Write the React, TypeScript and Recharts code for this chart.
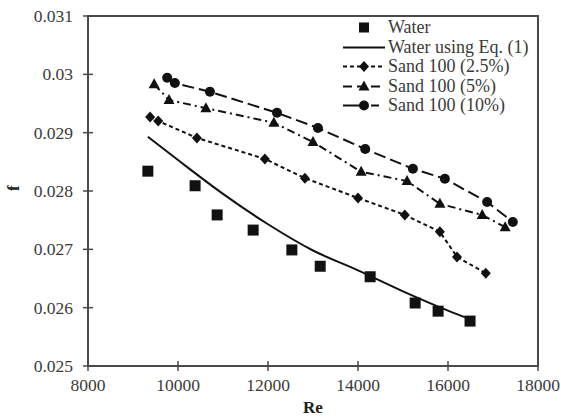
import React from 'react';
import { ComposedChart, Line, Scatter, XAxis, YAxis, ReferenceArea, Legend } from 'recharts';

// ---- data ----
const waterRe = [9330, 10380, 10870, 11670, 12530, 13160, 14270, 15270, 15780, 16490];
const waterF = [0.02834, 0.02809, 0.02759, 0.02733, 0.02699, 0.02671, 0.02653, 0.02608, 0.02594, 0.02577];

const eqRe = [9330, 10000, 11000, 12000, 13000, 14000, 15000, 16000, 16500];
const eqF = [0.02893, 0.02853, 0.02795, 0.02743, 0.02698, 0.02664, 0.02628, 0.02595, 0.0258];

const sand25Re = [9380, 9560, 10420, 11930, 12820, 14000, 15040, 15820, 16200, 16840];
const sand25F = [0.02927, 0.0292, 0.02891, 0.02855, 0.02822, 0.02788, 0.02759, 0.0273, 0.02687, 0.02659];

const sand5Re = [9470, 9800, 10620, 12130, 13000, 14070, 15090, 15820, 16760, 17270];
const sand5F = [0.02983, 0.02956, 0.02942, 0.02917, 0.02884, 0.02833, 0.02817, 0.02778, 0.02759, 0.02738];

const sand10Re = [9760, 9930, 10710, 12200, 13110, 14160, 15220, 15930, 16870, 17440];
const sand10F = [0.02994, 0.02985, 0.0297, 0.02934, 0.02908, 0.02872, 0.02838, 0.02821, 0.02781, 0.02747];

const xTicks = [8000, 10000, 12000, 14000, 16000, 18000];
const yTicks = [0.025, 0.026, 0.027, 0.028, 0.029, 0.03, 0.031];
const yTickLabels = ['0.025', '0.026', '0.027', '0.028', '0.029', '0.03', '0.031'];

const seriesNames = ['Water', 'Water using Eq. (1)', 'Sand 100 (2.5%)', 'Sand 100 (5%)', 'Sand 100 (10%)'];

const zip = (xs: number[], ys: number[]) => xs.map((re, i) => ({ re, f: ys[i] }));
const waterData = zip(waterRe, waterF);
const eqData = zip(eqRe, eqF);
const sand25Data = zip(sand25Re, sand25F);
const sand5Data = zip(sand5Re, sand5F);
const sand10Data = zip(sand10Re, sand10F);

const FONT = 'Liberation Serif';
const AXIS = '#4a4a4a';
const INK = '#111';
const TXT = '#3a3a3a';

const DASH25 = '4 3';
const DASH5 = '8 4 2 4';
const DASH10 = '12 5';

// ---- markers ----
const squareAt = (cx: number, cy: number, k: any) => (
  <rect key={k} x={cx - 5.5} y={cy - 5.5} width={11} height={11} fill={INK} />
);
const diamondAt = (cx: number, cy: number, k: any) => (
  <path key={k} d={`M${cx},${cy - 5.5}L${cx + 5},${cy}L${cx},${cy + 5.5}L${cx - 5},${cy}Z`} fill={INK} />
);
const triangleAt = (cx: number, cy: number, k: any) => (
  <path key={k} d={`M${cx},${cy - 6}L${cx + 5.5},${cy + 4}L${cx - 5.5},${cy + 4}Z`} fill={INK} />
);
const circleAt = (cx: number, cy: number, k: any) => <circle key={k} cx={cx} cy={cy} r={5} fill={INK} />;

const dotFn = (maker: any) => (p: any) => {
  if (p.cx == null || p.cy == null) return <g key={p.index} />;
  return maker(p.cx, p.cy, p.index);
};

const SquareShape = (p: any) => {
  const cx = p.cx != null ? p.cx : p.x + (p.width || 0) / 2;
  const cy = p.cy != null ? p.cy : p.y + (p.height || 0) / 2;
  return squareAt(cx, cy, undefined);
};

// ---- ticks ----
const YTick = (p: any) => {
  const { x, y, payload } = p;
  const ax = x + 15;
  const idx = yTicks.findIndex((t) => Math.abs(t - payload.value) < 1e-9);
  return (
    <g>
      <line x1={ax - 5} x2={ax + 5} y1={y} y2={y} stroke={AXIS} strokeWidth={1.5} />
      <text x={x} y={y} dy="0.35em" textAnchor="end" style={{ fontFamily: FONT }} fontSize={17.5} fill={TXT}>
        {idx >= 0 ? yTickLabels[idx] : String(payload.value)}
      </text>
    </g>
  );
};

const XTick = (p: any) => {
  const { x, y, payload } = p;
  const ay = y - 13;
  return (
    <g>
      <line x1={x} x2={x} y1={ay - 5} y2={ay + 5} stroke={AXIS} strokeWidth={1.5} />
      <text x={x} y={y} dy="0.68em" textAnchor="middle" style={{ fontFamily: FONT }} fontSize={17.5} fill={TXT}>
        {payload.value}
      </text>
    </g>
  );
};

// ---- legend ----
const legendIcons = [
  () => <rect x={16} y={4.5} width={10} height={10} fill={INK} />,
  () => <line x1={0} x2={42} y1={9.5} y2={9.5} stroke={INK} strokeWidth={2} />,
  () => (
    <g>
      <line x1={0} x2={42} y1={9.5} y2={9.5} stroke={INK} strokeWidth={2} strokeDasharray={DASH25} />
      {diamondAt(21, 9.5, 'd')}
    </g>
  ),
  () => (
    <g>
      <line x1={0} x2={42} y1={9.5} y2={9.5} stroke={INK} strokeWidth={2} strokeDasharray="9 5" />
      {triangleAt(21, 9.5, 't')}
    </g>
  ),
  () => (
    <g>
      <line x1={0} x2={42} y1={9.5} y2={9.5} stroke={INK} strokeWidth={2} strokeDasharray="24 4 8 6" />
      {circleAt(21, 9.5, 'c')}
    </g>
  ),
];

const renderLegend = () => (
  <div style={{ fontFamily: FONT, fontSize: 18, color: TXT, lineHeight: '19.5px' }}>
    {seriesNames.map((name, i) => (
      <div key={name} style={{ display: 'flex', alignItems: 'center', height: 19.5, whiteSpace: 'nowrap' }}>
        <svg width={44} height={19} style={{ marginRight: 1, flex: 'none' }}>
          {legendIcons[i]()}
        </svg>
        <span style={{ fontFamily: FONT }}>{name}</span>
      </div>
    ))}
  </div>
);

export default function App() {
  return (
    <div style={{ position: 'absolute', left: 0, top: 0, width: 561, height: 420, background: '#fff', fontFamily: FONT }}>
      <ComposedChart width={561} height={420} margin={{ top: 16, right: 23, bottom: 0, left: 0 }} style={{ fontFamily: FONT }}>
        <XAxis
          dataKey="re"
          type="number"
          domain={[8000, 18000]}
          ticks={xTicks}
          allowDataOverflow
          height={54}
          tickSize={5}
          tickMargin={8}
          tickLine={false}
          tick={<XTick />}
          axisLine={{ stroke: AXIS, strokeWidth: 2 }}
          label={{ value: 'Re', position: 'insideBottom', offset: 7, fontFamily: FONT, fontSize: 17, fontWeight: 'bold', fill: '#222' }}
        />
        <YAxis
          type="number"
          domain={[0.025, 0.031]}
          ticks={yTicks}
          allowDataOverflow
          width={88}
          tickSize={5}
          tickMargin={10}
          tickLine={false}
          tick={<YTick />}
          axisLine={{ stroke: AXIS, strokeWidth: 2 }}
          label={{ value: 'f', angle: -90, position: 'insideLeft', offset: 13, fontFamily: FONT, fontSize: 17, fontWeight: 'bold', fill: '#222' }}
        />
        <ReferenceArea x1={8000} x2={18000} y1={0.025} y2={0.031} fill="none" fillOpacity={0} stroke={AXIS} strokeWidth={2} />
        <Line
          name={seriesNames[1]}
          data={eqData}
          dataKey="f"
          type="monotone"
          stroke={INK}
          strokeWidth={2}
          dot={false}
          activeDot={false}
          isAnimationActive={false}
        />
        <Line
          name={seriesNames[2]}
          data={sand25Data}
          dataKey="f"
          type="linear"
          stroke={INK}
          strokeWidth={2}
          strokeDasharray={DASH25}
          dot={dotFn(diamondAt)}
          activeDot={false}
          isAnimationActive={false}
        />
        <Line
          name={seriesNames[3]}
          data={sand5Data}
          dataKey="f"
          type="linear"
          stroke={INK}
          strokeWidth={2}
          strokeDasharray={DASH5}
          dot={dotFn(triangleAt)}
          activeDot={false}
          isAnimationActive={false}
        />
        <Line
          name={seriesNames[4]}
          data={sand10Data}
          dataKey="f"
          type="linear"
          stroke={INK}
          strokeWidth={2}
          strokeDasharray={DASH10}
          dot={dotFn(circleAt)}
          activeDot={false}
          isAnimationActive={false}
        />
        <Scatter name={seriesNames[0]} data={waterData} dataKey="f" fill={INK} shape={<SquareShape />} isAnimationActive={false} />
        <Legend
          layout="horizontal"
          verticalAlign="middle"
          align="center"
          content={renderLegend}
          wrapperStyle={{ left: 343, top: 18, width: 212 }}
        />
      </ComposedChart>
    </div>
  );
}
